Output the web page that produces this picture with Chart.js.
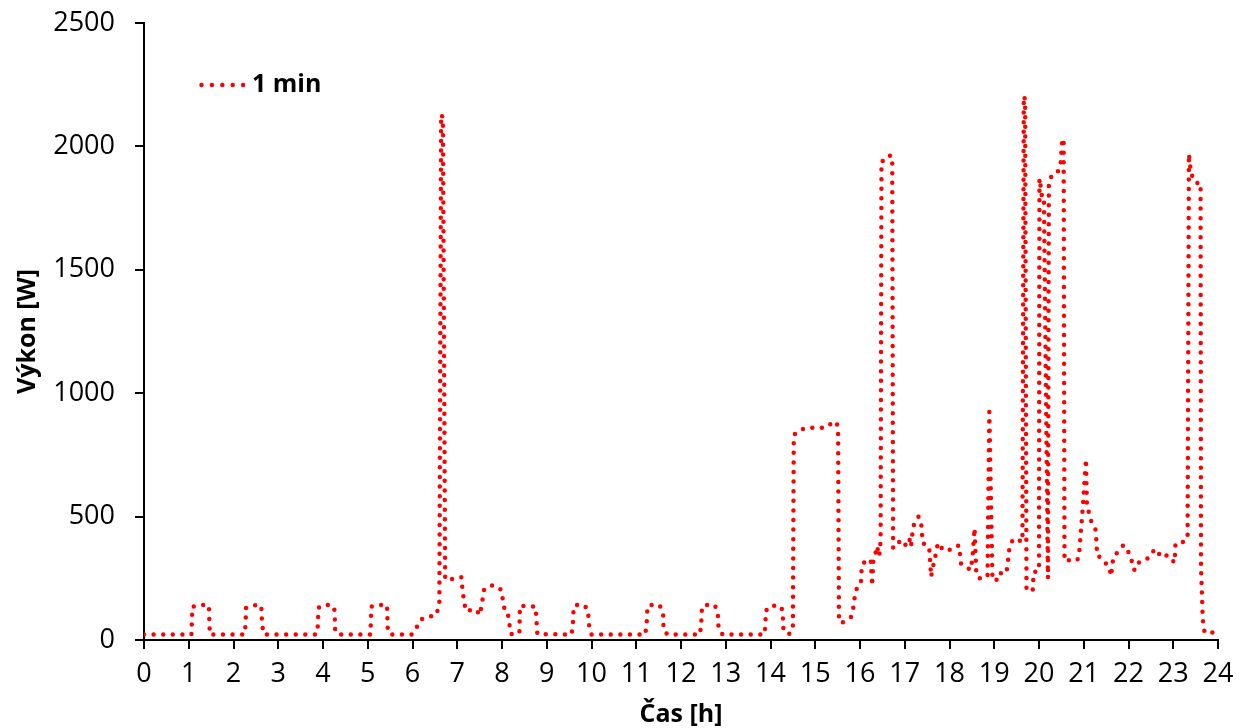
<!DOCTYPE html>
<html>
<head>
<meta charset="utf-8">
<script src="https://cdn.jsdelivr.net/npm/chart.js@4"></script>
<style>
  html, body { margin: 0; padding: 0; background: #fff; }
  #wrap { width: 1239px; height: 728px; position: relative; }
</style>
</head>
<body>
<div id="wrap"><canvas class="my-chart"></canvas></div>
<script>
// time of day [h] and power [W] (1 min series)
const hours = [
  0, 1.06, 1.08, 1.26, 1.45, 1.47, 2.24, 2.27, 2.28, 2.5, 2.62, 2.64, 2.68,
  3.85, 3.88, 3.9, 4.0, 4.2, 4.26, 4.27, 4.33, 5.06, 5.08, 5.2, 5.43, 5.45, 5.55,
  5.98, 6.01, 6.1, 6.17, 6.27, 6.38, 6.5, 6.57, 6.6, 6.64, 6.68, 6.73, 6.85, 6.95,
  7.09, 7.12, 7.16, 7.21, 7.35, 7.43, 7.5, 7.54, 7.6, 7.65, 7.8, 7.94, 7.99,
  8.02, 8.05, 8.12, 8.16, 8.2, 8.36, 8.39, 8.4, 8.6, 8.75, 8.79,
  9.55, 9.58, 9.6, 9.64, 9.84, 9.92, 9.95, 10.0,
  11.2, 11.23, 11.25, 11.3, 11.52, 11.6, 11.61, 11.7,
  12.42, 12.45, 12.47, 12.54, 12.75, 12.82, 12.84, 12.93,
  13.86, 13.88, 13.9, 13.99, 14.21, 14.27, 14.29, 14.41, 14.5, 14.52, 14.63, 14.8,
  15.23, 15.36, 15.47, 15.51, 15.53, 15.6, 15.7, 15.8, 15.85, 15.9,
  16.02, 16.04, 16.12, 16.24, 16.27, 16.3, 16.35, 16.38, 16.43, 16.46, 16.48, 16.6,
  16.68, 16.72, 16.74, 16.81, 16.88, 16.99,
  17.1, 17.14, 17.18, 17.22, 17.31, 17.37, 17.4, 17.51, 17.55, 17.59, 17.62, 17.66,
  17.74, 17.81, 17.93, 18.0, 18.15, 18.22, 18.25, 18.33, 18.48, 18.52, 18.56, 18.6,
  18.67, 18.8, 18.85, 18.89, 18.96, 19.05, 19.08, 19.27, 19.3, 19.34, 19.41, 19.5,
  19.6, 19.63, 19.66, 19.69, 19.72, 19.86, 19.88, 20.0, 20.01, 20.04, 20.07, 20.11, 20.2,
  20.22, 20.3, 20.4, 20.48, 20.52, 20.55, 20.57, 20.79, 20.86, 20.9, 20.98,
  21.05, 21.07, 21.17, 21.26, 21.28, 21.3, 21.37, 21.46, 21.57, 21.61, 21.66, 21.8,
  21.89, 21.98, 22.09, 22.13, 22.17, 22.32, 22.5, 22.58, 22.76, 22.87,
  23.03, 23.05, 23.18, 23.32, 23.35, 23.39, 23.45, 23.51, 23.61, 23.62, 23.66, 23.7, 23.92
];
const power = [
  22, 22, 135, 142, 140, 22, 22, 60, 130, 142, 140, 60, 22,
  22, 45, 130, 142, 142, 120, 45, 22, 22, 135, 142, 142, 30, 22,
  22, 31, 54, 81, 90, 97, 96, 122, 150, 2130, 2115, 245, 245, 250,
  255, 200, 145, 115, 125, 122, 101, 135, 205, 211, 223, 210, 200,
  160, 130, 120, 70, 24, 24, 35, 138, 138, 135, 24,
  22, 50, 130, 142, 142, 120, 50, 22,
  22, 60, 135, 142, 142, 110, 40, 22,
  22, 60, 135, 142, 142, 115, 45, 22,
  22, 48, 119, 139, 139, 120, 38, 24, 40, 830, 848, 860,
  860, 878, 885, 858, 74, 70, 80, 93, 130, 200,
  230, 300, 322, 325, 220, 330, 355, 380, 340, 400, 1940, 1945,
  1965, 1945, 372, 378, 398, 378,
  413, 378, 448, 479, 500, 466, 392, 385, 365, 256, 290, 317,
  392, 372, 378, 365, 382, 382, 311, 297, 284, 350, 453, 263,
  250, 250, 260, 925, 243, 243, 270, 270, 310, 375, 405, 395,
  405, 400, 2205, 2190, 200, 203, 275, 280, 1870, 1835, 1790, 1790, 250,
  1860, 1885, 1890, 1920, 2030, 2030, 320, 328, 324, 358, 540,
  733, 547, 479, 450, 410, 340, 336, 316, 296, 259, 336, 365,
  385, 365, 312, 284, 311, 317, 340, 369, 333, 344,
  313, 390, 392, 412, 1970, 1900, 1864, 1852, 1852, 297, 81, 30, 30
];
const seriesLabel = "1 min";
const xTitle = "Čas [h]";
const yTitle = "Výkon [W]";

const FONT = "'Open Sans', 'Noto Sans', sans-serif";

// legend drawn inside the plot, top left
const insideLegend = {
  id: "insideLegend",
  afterDraw(chart) {
    const ctx = chart.ctx;
    ctx.save();
    ctx.strokeStyle = "#ff0000";
    ctx.lineWidth = 4.5;
    ctx.lineCap = "round";
    ctx.setLineDash([0, 10.4]);
    ctx.beginPath();
    ctx.moveTo(201.5, 85);
    ctx.lineTo(244, 85);
    ctx.stroke();
    ctx.setLineDash([]);
    ctx.fillStyle = "#000";
    ctx.font = "bold 25px " + FONT;
    ctx.textBaseline = "middle";
    ctx.fillText(seriesLabel, 252, 85);
    ctx.restore();
  }
};

const myChart = document.querySelector(".my-chart");
new Chart(myChart, {
  type: "line",
  data: {
    datasets: [
      {
        label: seriesLabel,
        data: hours.map((h, i) => ({ x: h, y: power[i] })),
        borderColor: "#ff0000",
        borderWidth: 4.5,
        borderDash: [0, 9.6],
        borderCapStyle: "round",
        borderJoinStyle: "round",
        pointRadius: 0,
        tension: 0,
        fill: false,
      },
    ],
  },
  options: {
    responsive: true,
    maintainAspectRatio: false,
    animation: false,
    layout: { padding: { top: 23, right: 21, left: 0, bottom: 0 } },
    plugins: {
      legend: { display: false },
      tooltip: { enabled: false },
    },
    scales: {
      x: {
        type: "linear",
        min: 0,
        max: 24,
        afterFit(scale) {
          scale.height = 88;
          scale.paddingLeft = 0;
          scale.paddingRight = 0;
        },
        ticks: {
          stepSize: 1,
          color: "#000",
          padding: 9,
          maxRotation: 0,
          autoSkip: false,
          font: { family: FONT, size: 27 },
        },
        grid: {
          drawOnChartArea: false,
          drawTicks: true,
          tickLength: 9,
          color: "#000",
          lineWidth: 2,
        },
        border: { display: true, color: "#000", width: 2 },
        title: {
          display: true,
          text: xTitle,
          color: "#000",
          padding: { top: 0, bottom: -2 },
          font: { family: FONT, size: 25, weight: "bold" },
        },
      },
      y: {
        min: 0,
        max: 2500,
        afterFit(scale) {
          scale.width = 144;
          scale.paddingTop = 0;
          scale.paddingBottom = 0;
        },
        ticks: {
          stepSize: 500,
          color: "#000",
          padding: 20,
          font: { family: FONT, size: 27 },
          callback: (v) => String(v),
        },
        grid: {
          drawOnChartArea: false,
          drawTicks: true,
          tickLength: 9,
          color: "#000",
          lineWidth: 2,
        },
        border: { display: true, color: "#000", width: 2 },
        title: {
          display: true,
          text: yTitle,
          color: "#000",
          padding: { top: 13, bottom: 0 },
          font: { family: FONT, size: 25, weight: "bold" },
        },
      },
    },
  },
  plugins: [insideLegend],
});
</script>
</body>
</html>
